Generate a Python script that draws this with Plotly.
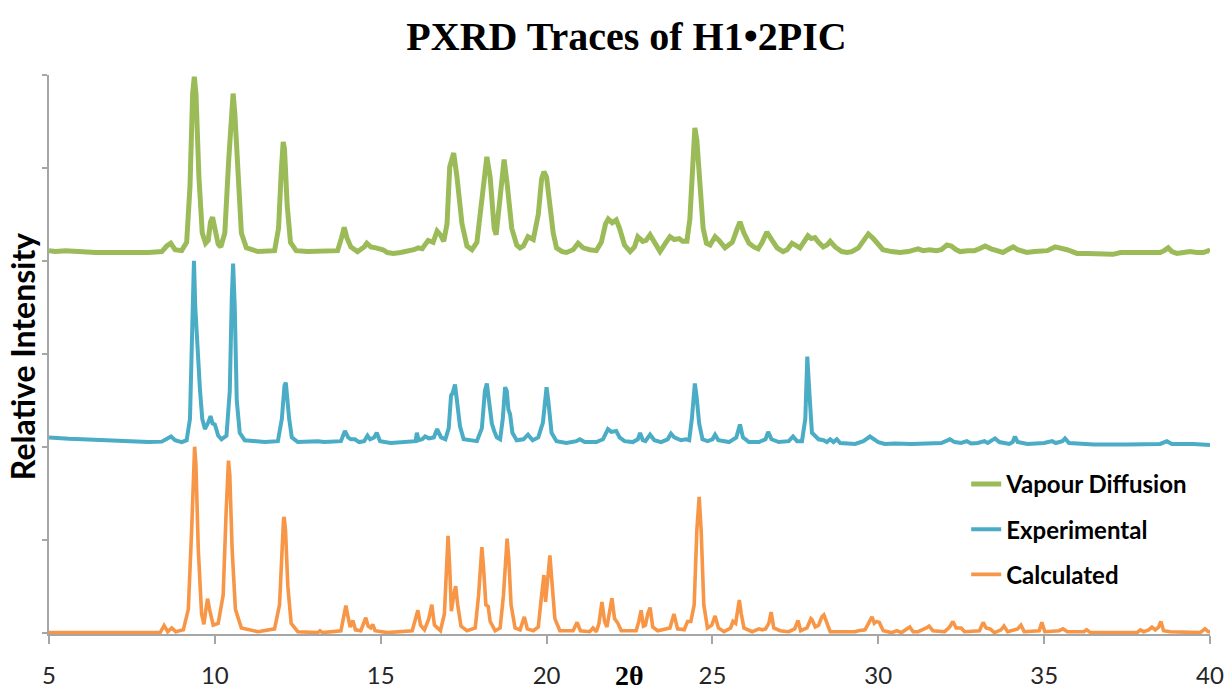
import plotly.graph_objects as go

# ---------------- data ----------------
# Calculated pattern: 2theta / relative intensity (axis units above its own baseline)
calc_2theta = [5.0, 8.35, 8.47, 8.58, 8.7, 8.82, 9.05, 9.2, 9.3, 9.36, 9.39, 9.43, 9.5, 9.6, 9.67, 9.73, 9.78, 9.84, 9.95,
               10.1, 10.25, 10.34, 10.39, 10.41, 10.45, 10.52, 10.62, 10.8, 11.3, 11.8, 11.95, 12.03, 12.07, 12.09, 12.13,
               12.2, 12.3, 12.5, 13.1, 13.17, 13.25, 13.8, 13.88, 13.95, 14.02, 14.08, 14.16, 14.24, 14.4, 14.5, 14.55,
               14.62, 14.7, 14.76, 14.83, 15.2, 15.95, 16.05, 16.12, 16.2, 16.32, 16.45, 16.54, 16.62, 16.8, 16.92, 16.98,
               17.03, 17.08, 17.13, 17.2, 17.26, 17.32, 17.42, 17.6, 17.85, 17.95, 18.02, 18.05, 18.1, 18.17, 18.24, 18.3,
               18.45, 18.6, 18.7, 18.77, 18.81, 18.86, 18.93, 19.05, 19.2, 19.33, 19.42, 19.6, 19.75, 19.85, 19.92, 19.97,
               20.05, 20.1, 20.15, 20.25, 20.4, 20.8, 20.92, 21.02, 21.3, 21.4, 21.5, 21.58, 21.67, 21.75, 21.82, 21.9,
               21.97, 22.05, 22.15, 22.25, 22.42, 22.7, 22.78, 22.85, 22.92, 22.98, 23.05, 23.12, 23.2, 23.35, 23.72,
               23.84, 23.95, 24.15, 24.25, 24.35, 24.45, 24.53, 24.6, 24.66, 24.74, 24.85, 24.98, 25.08, 25.18, 25.35,
               25.55, 25.62, 25.7, 25.76, 25.81, 25.87, 25.95, 26.2, 26.4, 26.5, 26.6, 26.7, 26.77, 26.85, 27.04, 27.3,
               27.48, 27.58, 27.66, 27.85, 27.97, 28.0, 28.1, 28.2, 28.3, 28.36, 28.45, 28.55, 29.3, 29.4, 29.6, 29.72,
               29.81, 29.88, 29.95, 30.03, 30.15, 30.4, 30.56, 30.7, 30.95, 31.05, 31.2, 31.45, 31.53, 31.65, 32.0,
               32.15, 32.25, 32.35, 32.5, 32.6, 33.05, 33.16, 33.25, 33.37, 33.5, 33.7, 33.79, 33.9, 34.2, 34.3, 34.4,
               34.85, 34.93, 35.02, 35.45, 35.57, 35.7, 36.2, 36.28, 36.4, 37.8, 37.9, 38.0, 38.15, 38.25, 38.35, 38.45,
               38.52, 38.6, 38.8, 39.7, 39.85, 39.95, 40.0]
calc_intensity = [0.0, 0.0, 0.075, 0.01, 0.05, 0.01, 0.03, 0.25, 1.1, 1.85, 2.0, 1.8, 0.9, 0.2, 0.09, 0.25, 0.365, 0.25, 0.08,
                  0.1, 0.4, 1.3, 1.8, 1.85, 1.7, 0.9, 0.25, 0.05, 0.01, 0.04, 0.3, 1.0, 1.22, 1.245, 1.1,
                  0.5, 0.1, 0.01, 0.0, 0.02, 0.0, 0.02, 0.18, 0.29, 0.16, 0.06, 0.13, 0.03, 0.02, 0.12, 0.16,
                  0.07, 0.05, 0.09, 0.02, 0.0, 0.02, 0.15, 0.24, 0.08, 0.03, 0.15, 0.30, 0.08, 0.02, 0.2, 0.8,
                  1.04, 0.7, 0.23, 0.4, 0.50, 0.3, 0.07, 0.02, 0.05, 0.4, 0.85, 0.92, 0.7, 0.3, 0.28, 0.12,
                  0.02, 0.05, 0.4, 0.9, 1.01, 0.8, 0.3, 0.05, 0.03, 0.17, 0.04, 0.02, 0.06, 0.4, 0.62, 0.33,
                  0.7, 0.83, 0.6, 0.15, 0.02, 0.02, 0.11, 0.02, 0.01, 0.05, 0.01, 0.1, 0.33, 0.12, 0.06, 0.2,
                  0.37, 0.15, 0.1, 0.02, 0.02, 0.02, 0.12, 0.24, 0.07, 0.08, 0.2, 0.27, 0.06, 0.02, 0.05,
                  0.20, 0.04, 0.03, 0.12, 0.12, 0.3, 1.1, 1.46, 1.1, 0.3, 0.05, 0.08, 0.18, 0.05, 0.01,
                  0.05, 0.12, 0.1, 0.25, 0.35, 0.2, 0.05, 0.01, 0.04, 0.03, 0.04, 0.1, 0.22, 0.05, 0.02, 0.01,
                  0.04, 0.13, 0.02, 0.05, 0.15, 0.14, 0.06, 0.08, 0.17, 0.19, 0.1, 0.01, 0.01, 0.02, 0.03, 0.12,
                  0.17, 0.1, 0.12, 0.11, 0.02, 0.0, 0.02, 0.0, 0.06, 0.01, 0.01, 0.05, 0.07, 0.02, 0.01,
                  0.06, 0.12, 0.05, 0.05, 0.01, 0.02, 0.11, 0.05, 0.04, 0.0, 0.03, 0.07, 0.01, 0.04, 0.08, 0.01,
                  0.02, 0.11, 0.01, 0.02, 0.04, 0.01, 0.01, 0.03, 0.0, 0.0, 0.03, 0.01, 0.03, 0.06, 0.03, 0.06,
                  0.12, 0.02, 0.01, 0.0, 0.04, 0.01, 0.01]

# Experimental pattern
exp_2theta = [5.0, 5.3, 5.6, 6.0, 6.5, 7.0, 7.5, 8.0, 8.4, 8.6, 8.68, 8.8, 9.0, 9.15, 9.25, 9.32, 9.37, 9.41, 9.45, 9.5,
              9.55, 9.62, 9.7, 9.8, 9.87, 9.93, 10.0, 10.1, 10.2, 10.35, 10.45, 10.51, 10.55, 10.6, 10.66, 10.75, 10.9,
              11.5, 11.9, 12.02, 12.1, 12.14, 12.2, 12.24, 12.32, 12.5, 13.1, 13.3, 13.8, 13.92, 14.02, 14.1, 14.22,
              14.35, 14.5, 14.6, 14.68, 14.8, 14.88, 14.98, 15.3, 15.9, 16.05, 16.09, 16.14, 16.25, 16.34, 16.45, 16.6,
              16.7, 16.82, 16.95, 17.05, 17.12, 17.17, 17.24, 17.3, 17.39, 17.5, 17.9, 18.05, 18.14, 18.2, 18.27, 18.35,
              18.42, 18.5, 18.6, 18.68, 18.75, 18.8, 18.85, 18.9, 18.97, 19.1, 19.3, 19.44, 19.58, 19.75, 19.89, 19.96,
              20.0, 20.05, 20.15, 20.3, 20.6, 20.9, 21.0, 21.15, 21.5, 21.7, 21.8, 21.85, 21.95, 22.05, 22.1, 22.2,
              22.35, 22.6, 22.75, 22.82, 22.9, 22.98, 23.05, 23.12, 23.25, 23.45, 23.65, 23.75, 23.85, 24.05, 24.2,
              24.3, 24.38, 24.44, 24.47, 24.52, 24.6, 24.7, 24.85, 25.0, 25.08, 25.18, 25.5, 25.72, 25.83, 25.92, 26.1,
              26.4, 26.6, 26.68, 26.78, 27.0, 27.3, 27.43, 27.55, 27.7, 27.8, 27.86, 27.9, 27.93, 28.0, 28.2, 28.35,
              28.45, 28.55, 28.65, 28.75, 28.85, 29.3, 29.55, 29.75, 29.85, 30.0, 30.2, 30.5, 31.0, 31.5, 31.9, 32.16,
              32.3, 32.5, 32.67, 32.8, 33.0, 33.2, 33.3, 33.52, 33.65, 33.95, 34.05, 34.12, 34.2, 34.5, 35.0, 35.24,
              35.35, 35.55, 35.63, 35.75, 36.5, 37.5, 38.5, 38.7, 38.85, 39.5, 40.0]
exp_intensity = [0.10, 0.09, 0.085, 0.08, 0.07, 0.065, 0.055, 0.05, 0.055, 0.10, 0.11, 0.07, 0.05, 0.07, 0.3, 1.3, 2.0, 1.5,
                 1.19, 0.8, 0.62, 0.3, 0.19, 0.26, 0.33, 0.25, 0.24, 0.12, 0.08, 0.12, 0.6, 1.6, 1.97, 1.5, 0.5, 0.15,
                 0.07, 0.05, 0.06, 0.3, 0.66, 0.69, 0.4, 0.30, 0.1, 0.05, 0.06, 0.05, 0.06, 0.17, 0.1, 0.08, 0.08,
                 0.05, 0.06, 0.12, 0.08, 0.1, 0.15, 0.06, 0.04, 0.05, 0.06, 0.15, 0.07, 0.08, 0.11, 0.09, 0.1,
                 0.19, 0.1, 0.08, 0.2, 0.55, 0.58, 0.67, 0.5, 0.22, 0.08, 0.06, 0.2, 0.6, 0.68, 0.5, 0.25,
                 0.17, 0.1, 0.08, 0.3, 0.64, 0.6, 0.4, 0.35, 0.15, 0.07, 0.08, 0.13, 0.07, 0.1, 0.26, 0.5,
                 0.64, 0.5, 0.15, 0.06, 0.04, 0.06, 0.08, 0.05, 0.05, 0.08, 0.17, 0.19, 0.16, 0.17, 0.17, 0.1,
                 0.06, 0.05, 0.08, 0.15, 0.07, 0.06, 0.1, 0.13, 0.07, 0.05, 0.08, 0.14, 0.1, 0.07, 0.08,
                 0.07, 0.3, 0.62, 0.68, 0.55, 0.25, 0.08, 0.06, 0.08, 0.13, 0.07, 0.05, 0.1, 0.24, 0.1, 0.05,
                 0.05, 0.08, 0.16, 0.08, 0.05, 0.06, 0.11, 0.06, 0.06, 0.3, 0.97, 0.6, 0.54, 0.15, 0.08, 0.07,
                 0.05, 0.08, 0.05, 0.08, 0.04, 0.03, 0.06, 0.11, 0.09, 0.05, 0.03, 0.035, 0.03, 0.035, 0.04, 0.08,
                 0.05, 0.04, 0.06, 0.035, 0.04, 0.06, 0.04, 0.09, 0.05, 0.03, 0.05, 0.11, 0.05, 0.03, 0.04, 0.06,
                 0.04, 0.06, 0.09, 0.04, 0.025, 0.025, 0.03, 0.06, 0.03, 0.03, 0.02]

# Vapour diffusion pattern
vap_2theta = [5.0, 5.2, 5.5, 5.8, 6.1, 6.4, 6.8, 7.2, 7.6, 8.0, 8.4, 8.55, 8.67, 8.8, 9.0, 9.15, 9.25, 9.33, 9.38, 9.43,
              9.52, 9.62, 9.72, 9.8, 9.87, 9.93, 10.0, 10.1, 10.18, 10.3, 10.42, 10.52, 10.55, 10.6, 10.7, 10.8, 10.95,
              11.3, 11.8, 11.92, 12.0, 12.06, 12.1, 12.18, 12.28, 12.45, 12.8, 13.3, 13.7, 13.82, 13.9, 13.98, 14.1,
              14.3, 14.5, 14.58, 14.7, 14.85, 15.07, 15.2, 15.38, 15.6, 15.8, 16.0, 16.13, 16.25, 16.43, 16.58, 16.7,
              16.8, 16.9, 17.0, 17.08, 17.2, 17.3, 17.45, 17.6, 17.75, 17.9, 18.05, 18.2, 18.3, 18.42, 18.48, 18.58,
              18.72, 18.82, 18.95, 19.1, 19.2, 19.3, 19.44, 19.6, 19.75, 19.85, 19.92, 20.0, 20.1, 20.2, 20.3, 20.47,
              20.6, 20.8, 20.95, 21.1, 21.3, 21.5, 21.65, 21.78, 21.86, 21.98, 22.1, 22.2, 22.35, 22.52, 22.65, 22.75,
              22.9, 23.0, 23.12, 23.25, 23.42, 23.6, 23.72, 23.85, 24.0, 24.1, 24.23, 24.32, 24.4, 24.47, 24.53, 24.62,
              24.72, 24.82, 24.93, 25.08, 25.2, 25.38, 25.6, 25.75, 25.83, 25.95, 26.1, 26.25, 26.38, 26.5, 26.64,
              26.8, 26.95, 27.13, 27.25, 27.4, 27.52, 27.64, 27.75, 27.88, 27.98, 28.09, 28.2, 28.34, 28.45, 28.55,
              28.7, 28.9, 29.06, 29.2, 29.4, 29.55, 29.7, 29.85, 30.0, 30.14, 30.4, 30.66, 30.9, 31.2, 31.35, 31.55,
              31.75, 31.9, 32.07, 32.2, 32.35, 32.47, 32.7, 32.9, 33.05, 33.22, 33.4, 33.6, 33.76, 33.9, 34.07, 34.2,
              34.35, 34.48, 34.7, 34.9, 35.1, 35.33, 35.5, 35.69, 35.85, 35.99, 36.3, 36.6, 36.9, 37.08, 37.3, 37.6,
              37.9, 38.1, 38.3, 38.5, 38.62, 38.74, 38.85, 39.0, 39.2, 39.4, 39.6, 39.8, 39.95, 40.0]
vap_intensity = [0.11, 0.10, 0.11, 0.10, 0.10, 0.09, 0.09, 0.085, 0.09, 0.09, 0.10, 0.16, 0.19, 0.12, 0.11, 0.2, 0.8, 1.8,
                 1.98, 1.8, 0.9, 0.3, 0.19, 0.22, 0.42, 0.47, 0.35, 0.18, 0.15, 0.3, 1.1, 1.78, 1.80, 1.6, 0.8, 0.3,
                 0.14, 0.1, 0.11, 0.35, 0.95, 1.28, 1.2, 0.6, 0.2, 0.11, 0.1, 0.11, 0.11, 0.25, 0.36, 0.25, 0.15,
                 0.1, 0.15, 0.19, 0.15, 0.14, 0.12, 0.09, 0.08, 0.09, 0.1, 0.12, 0.14, 0.13, 0.22, 0.2, 0.32,
                 0.28, 0.21, 0.4, 1.01, 1.16, 0.9, 0.4, 0.16, 0.12, 0.2, 0.7, 1.12, 0.9, 0.35, 0.28, 0.6,
                 1.09, 0.8, 0.35, 0.17, 0.14, 0.16, 0.26, 0.23, 0.5, 0.88, 0.96, 0.9, 0.6, 0.3, 0.14, 0.10,
                 0.09, 0.12, 0.19, 0.14, 0.12, 0.11, 0.2, 0.4, 0.45, 0.41, 0.44, 0.35, 0.17, 0.10, 0.15, 0.26,
                 0.21, 0.22, 0.28, 0.2, 0.10, 0.2, 0.26, 0.23, 0.24, 0.21, 0.21, 0.45, 1.1, 1.43, 1.3, 0.8,
                 0.35, 0.19, 0.17, 0.26, 0.22, 0.14, 0.2, 0.35, 0.42, 0.3, 0.19, 0.15, 0.13, 0.2, 0.31,
                 0.22, 0.14, 0.10, 0.12, 0.19, 0.16, 0.14, 0.2, 0.27, 0.24, 0.25, 0.2, 0.15, 0.17, 0.21,
                 0.15, 0.1, 0.09, 0.1, 0.14, 0.22, 0.29, 0.24, 0.17, 0.12, 0.1, 0.09, 0.1, 0.13, 0.11, 0.12,
                 0.11, 0.12, 0.17, 0.16, 0.12, 0.1, 0.11, 0.11, 0.13, 0.16, 0.13, 0.11, 0.09, 0.12, 0.15, 0.12,
                 0.1, 0.09, 0.1, 0.1, 0.11, 0.15, 0.14, 0.12, 0.1, 0.08, 0.08, 0.08, 0.07, 0.07, 0.09, 0.09,
                 0.1, 0.1, 0.1, 0.09, 0.11, 0.14, 0.1, 0.08, 0.09, 0.1, 0.09, 0.09, 0.11, 0.10]

series_names = ["Vapour Diffusion", "Experimental", "Calculated"]
series_offsets = [4.0, 2.0, 0.0]          # vertical stacking of the traces
x_tick_values = [5, 10, 15, 20, 25, 30, 35, 40]
y_tick_values = [0, 1, 2, 3, 4, 5, 6]

# ---------------- styling ----------------
colors = ["#9BBB59", "#4BACC6", "#F79646"]
widths = [5.0, 4.0, 3.6]
axis_grey = "#A6A6A6"
sans = "Lato, 'Open Sans', sans-serif"
serif = "'Liberation Serif', 'Times New Roman', serif"

xs = [vap_2theta, exp_2theta, calc_2theta]
ys = [vap_intensity, exp_intensity, calc_intensity]

fig = go.Figure()
for i, name in enumerate(series_names):
    fig.add_trace(go.Scatter(
        x=xs[i],
        y=[v + series_offsets[i] for v in ys[i]],
        mode="lines",
        name=name,
        legendgroup=name,
        line=dict(color=colors[i], width=widths[i]),
    ))

fig.update_layout(
    width=1226, height=693,
    margin=dict(l=49, r=16, t=75, b=59, autoexpand=False),
    paper_bgcolor="white", plot_bgcolor="white",
    title=dict(text="<b>PXRD Traces of H1•2PIC</b>", x=0.511, xanchor="center",
               y=0.948, yanchor="middle",
               font=dict(family=serif, size=40, color="black")),
    showlegend=True,
    legend=dict(x=0.790, y=0.308, xanchor="left", yanchor="top",
                font=dict(family=sans, size=24, color="black", weight="bold"),
                tracegroupgap=11, bgcolor="rgba(0,0,0,0)", itemwidth=30),
    xaxis=dict(range=[5, 40], tickvals=x_tick_values, showgrid=False, zeroline=False,
               automargin=False,
               showline=True, linecolor=axis_grey, linewidth=1.5,
               ticks="outside", ticklen=8, tickcolor=axis_grey, tickwidth=1.5,
               ticklabelstandoff=11,
               tickfont=dict(family=sans, size=24, color="#262626")),
    yaxis=dict(range=[-0.015, 6.0], tickvals=y_tick_values, showticklabels=False,
               showgrid=False, zeroline=False, automargin=False,
               showline=True, linecolor=axis_grey, linewidth=1.5,
               ticks="outside", ticklen=5, tickcolor=axis_grey, tickwidth=1.5),
    annotations=[
        dict(text="<b>Relative Intensity</b>", textangle=-90, xref="paper", yref="paper",
             x=-0.0233, y=0.497, xanchor="center", yanchor="middle", showarrow=False,
             font=dict(family=sans, size=32, color="black")),
        dict(text="<b>2θ</b>", xref="paper", yref="paper", x=0.50, y=-0.0735,
             xanchor="center", yanchor="middle", showarrow=False,
             font=dict(family=serif, size=28, color="black")),
    ],
)

fig.write_html("out.html")
